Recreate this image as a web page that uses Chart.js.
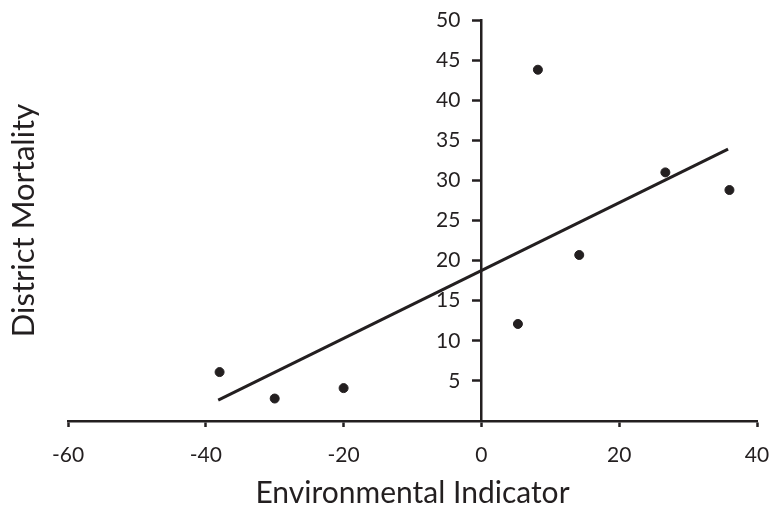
<!DOCTYPE html>
<html>
<head>
<meta charset="utf-8">
<script src="https://cdn.jsdelivr.net/npm/chart.js@4"></script>
<style>
  html, body { margin: 0; padding: 0; background: #fff; }
  #wrap { width: 771px; height: 510px; position: relative; }
</style>
</head>
<body>
<div id="wrap"><canvas id="scatterChart"></canvas></div>
<script>
// district points
const envIndicator = [-38, -30, -20, 5.3, 8.2, 14.2, 26.7, 36];
const mortality = [6.1, 2.8, 4.1, 12.1, 43.8, 20.7, 31, 28.8];

// fitted line, end points
const fitX = [-38.2, 35.8];
const fitY = [2.6, 33.9];

const xTicks = [-60, -40, -20, 0, 20, 40];
const yTicks = [5, 10, 15, 20, 25, 30, 35, 40, 45, 50];

const ink = "#231f20";
const fontFamily = "Lato, 'Open Sans', sans-serif";

const ctx = document.getElementById("scatterChart").getContext("2d");

new Chart(ctx, {
    type: "scatter",
    data: {
        datasets: [
            {
                label: "Districts",
                data: envIndicator.map((x, i) => ({ x: x, y: mortality[i] })),
                backgroundColor: ink,
                borderColor: ink,
                pointRadius: 4.5,
                pointHoverRadius: 4.5
            },
            {
                label: "Fit",
                type: "line",
                data: fitX.map((x, i) => ({ x: x, y: fitY[i] })),
                borderColor: ink,
                borderWidth: 3,
                pointRadius: 0,
                fill: false
            }
        ]
    },
    options: {
        responsive: true,
        maintainAspectRatio: false,
        animation: false,
        layout: {
            padding: { top: 20, right: 0, bottom: 2, left: 0 }
        },
        plugins: {
            legend: { display: false },
            tooltip: { enabled: false }
        },
        scales: {
            x: {
                type: "linear",
                position: "bottom",
                min: -60,
                max: 40,
                afterBuildTicks: axis => { axis.ticks = xTicks.map(v => ({ value: v })); },
                // tick padding would otherwise push the right end inwards
                afterFit: axis => { axis.paddingRight = 14; },
                border: { display: true, color: ink, width: 2.5 },
                grid: { drawOnChartArea: false, drawTicks: true, tickLength: 6, tickWidth: 2.5, tickColor: ink },
                ticks: { color: ink, font: { family: fontFamily, size: 21, lineHeight: 1 }, padding: 18 },
                title: {
                    display: true,
                    text: "Environmental Indicator",
                    color: ink,
                    font: { family: fontFamily, size: 30, lineHeight: 1 },
                    padding: { top: -6, bottom: 0 }
                }
            },
            y: {
                type: "linear",
                position: { x: 0 },
                min: 0,
                max: 50,
                afterBuildTicks: axis => { axis.ticks = yTicks.map(v => ({ value: v })); },
                border: { display: true, color: ink, width: 2.5 },
                grid: { drawOnChartArea: false, drawTicks: true, tickLength: 8, tickWidth: 2.5, tickColor: ink },
                // labels sit flush on a centred axis, so pad them with spaces
                ticks: {
                    color: ink,
                    font: { family: fontFamily, size: 21 },
                    callback: v => v + "\u2002\u2002"
                }
            },
            yTitle: {
                type: "linear",
                position: "left",
                display: true,
                grid: { display: false, drawTicks: false },
                border: { display: false },
                ticks: { display: false },
                title: {
                    display: true,
                    text: "District Mortality",
                    color: ink,
                    font: { family: fontFamily, size: 31, lineHeight: 1 },
                    padding: { top: 8, bottom: 29 }
                }
            }
        }
    }
});
</script>
</body>
</html>
